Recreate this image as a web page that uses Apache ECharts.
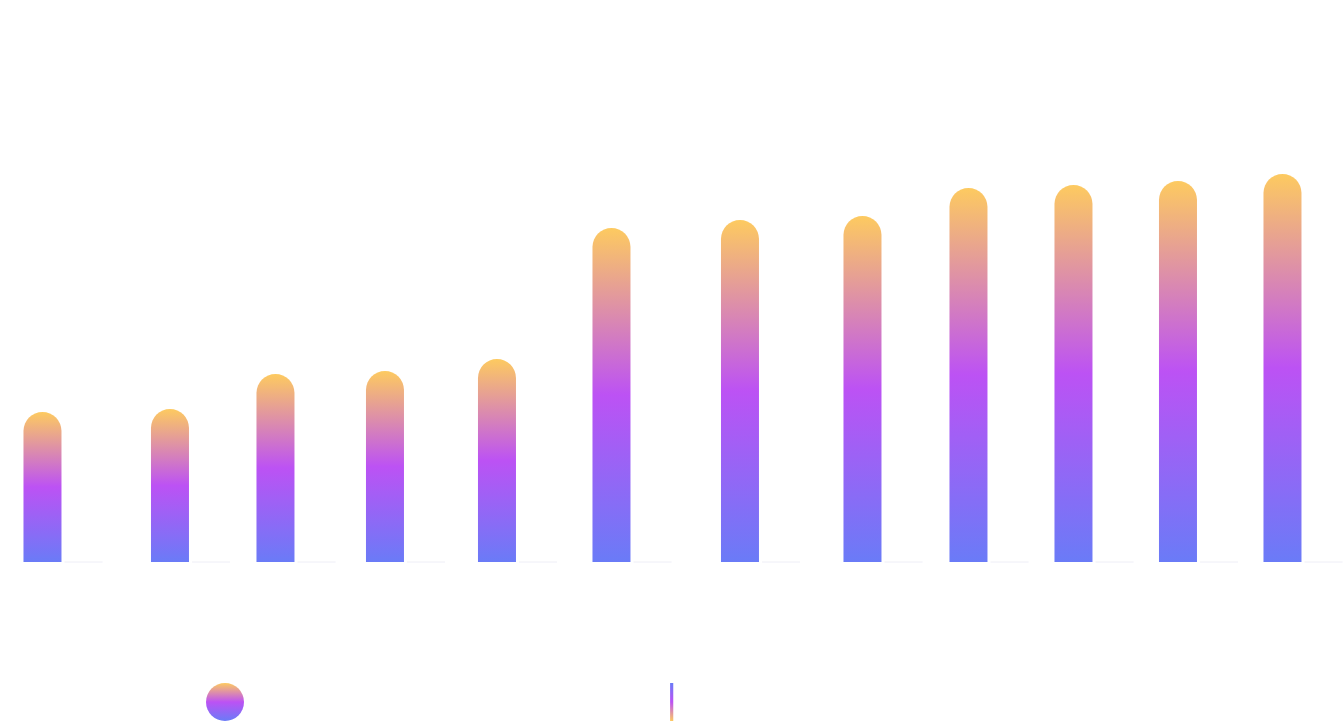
<!DOCTYPE html>
<html>
<head>
<meta charset="utf-8">
<style>html,body{margin:0;padding:0;background:#fff;}#c{width:1343px;height:721px;}</style>
<script src="https://cdn.jsdelivr.net/npm/echarts@6/dist/echarts.min.js"></script>
</head>
<body>
<div id="c"></div>
<script>
// ---- data ----
const categories = ['January','February','March','April','May','June','July','August','September','October','November','December'];
const xPositions = [63, 190.5, 296, 405.5, 517.5, 632, 760.5, 883, 989, 1094, 1198.5, 1303];
const seriesA = [150, 153, 188, 191, 203, 334, 342, 346, 374, 377, 381, 388];
const seriesB = [0, 0, 0, 0, 0, 0, 0, 0, 0, 0, 0, 0];
const seriesNames = ['Monthly total value of the main indicator (total)', 'Growth compared with the same period last year'];

const chart = echarts.init(document.getElementById('c'));
const gradA = new echarts.graphic.LinearGradient(0, 0, 0, 1, [
  {offset: 0, color: '#fdca60'},
  {offset: 0.5, color: '#bc52f4'},
  {offset: 1, color: '#6a7bf7'}
]);
const gradB = new echarts.graphic.LinearGradient(0, 0, 0, 1, [
  {offset: 0, color: '#6a7bf7'},
  {offset: 0.5, color: '#bc52f4'},
  {offset: 1, color: '#fdca60'}
]);
chart.setOption({
  backgroundColor: '#ffffff',
  animation: false,
  title: {
    text: 'Statistics of the main indicator by month over the whole year',
    subtext: 'Data source: annual statistics report',
    left: 'center', top: 6,
    textStyle: {color: '#ffffff', fontSize: 28},
    subtextStyle: {color: '#ffffff', fontSize: 18}
  },
  legend: {
    bottom: -5, left: 201,
    itemWidth: 38, itemHeight: 38, itemGap: 12,
    textStyle: {color: '#ffffff', fontSize: 20},
    data: [
      {name: seriesNames[0], icon: 'circle'},
      {name: seriesNames[1], icon: 'path://M0,0h1v12h-1z', itemStyle: {borderWidth: 0}}
    ]
  },
  grid: {left: 0, right: 0, top: 62, bottom: 159},
  xAxis: [{
    type: 'value', min: 0, max: 1343,
    axisLine: {show: false}, axisTick: {show: false},
    axisLabel: {show: false}, splitLine: {show: false}
  }, {
    type: 'category', data: categories, position: 'bottom',
    axisLine: {show: false}, axisTick: {show: false}, splitLine: {show: false},
    axisLabel: {color: '#ffffff', fontSize: 16, margin: 40}
  }],
  yAxis: {
    type: 'value', min: 0, max: 500,
    axisLine: {show: false}, axisTick: {show: false},
    axisLabel: {show: false}, splitLine: {show: false}
  },
  series: [{
    name: seriesNames[0], type: 'bar', xAxisIndex: 0,
    barWidth: 38, barGap: '8%',
    data: xPositions.map((x, i) => [x, seriesA[i]]),
    itemStyle: {color: gradA, borderRadius: [19, 19, 0, 0]},
    label: {show: true, position: 'top', color: '#ffffff', fontSize: 14}
  }, {
    name: seriesNames[1], type: 'bar', xAxisIndex: 0,
    barWidth: 38, barGap: '8%',
    data: xPositions.map((x, i) => [x, seriesB[i]]),
    itemStyle: {color: gradB, borderColor: '#f4f4f9', borderWidth: 1},
    label: {show: true, position: 'top', color: '#ffffff', fontSize: 14}
  }]
});
</script>
</body>
</html>
